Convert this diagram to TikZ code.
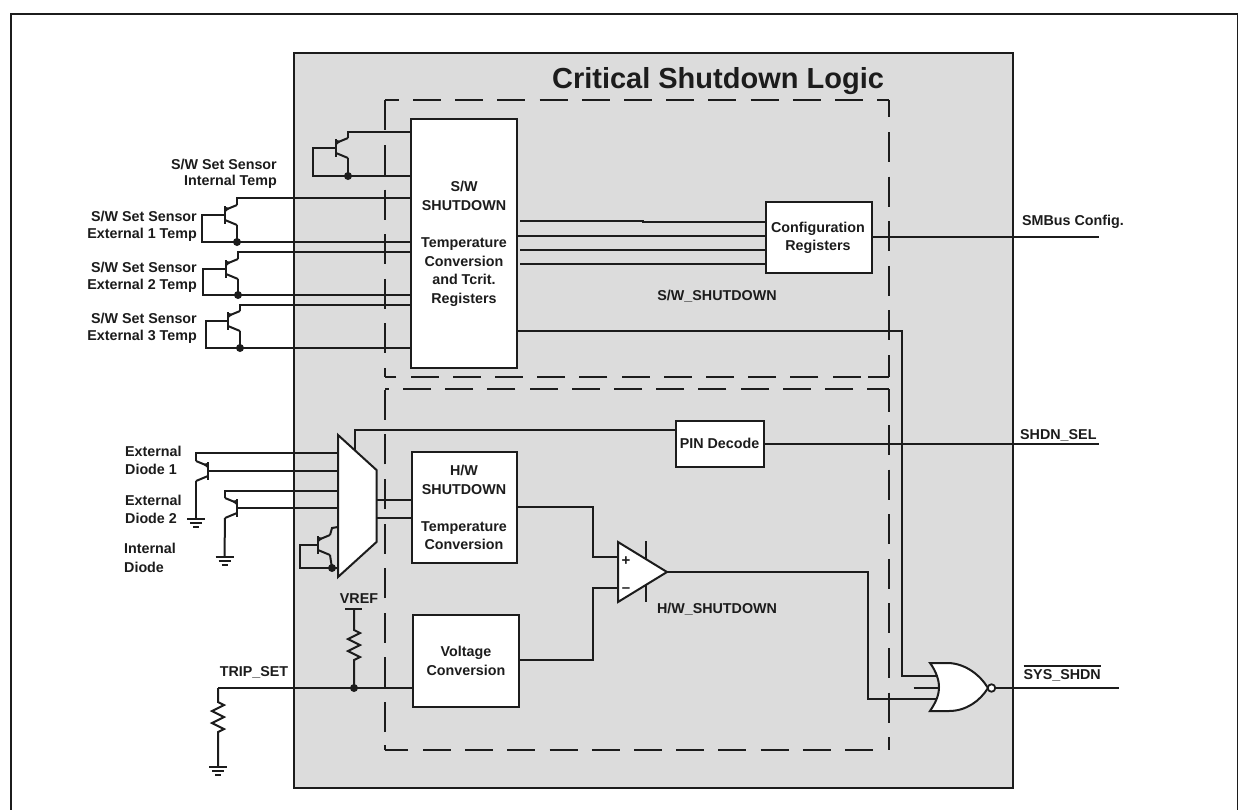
\documentclass[tikz,border=0pt]{standalone}
\usepackage{fontspec}
\setmainfont{Liberation Sans}
\definecolor{ink}{HTML}{1C1C1C}
\definecolor{panel}{HTML}{DCDCDC}
\tikzset{
  wire/.style={draw=ink,line width=2pt,line join=miter},
  box/.style={draw=ink,fill=white,line width=2pt,inner sep=0pt,align=center,font=\lbl,anchor=center},
  lbl/.style={inner sep=0pt,font=\lbl,text=ink,align=center},
  dashh/.style={draw=ink,line width=2pt,dash pattern=on 28pt off 14.2pt},
  dashv/.style={draw=ink,line width=2pt,dash pattern=on 30pt off 14.6pt},
  joint/.style={circle,fill=ink,inner sep=0pt,minimum size=8pt},
}
\newcommand\lbl{\fontsize{14.3}{18.6}\selectfont\bfseries}
% transistor: name, bar x, centre y, direction
\newcommand\qnpn[4]{%
  \coordinate (#1-b) at (#2,#3);
  \coordinate (#1-c) at ({#2+12*#4},{#3-10});
  \coordinate (#1-e) at ({#2+12*#4},{#3+10});
  \draw[wire] (#2,{#3-9}) -- (#2,{#3+9});
  \draw[wire] (#2,{#3-5}) -- (#1-c);
  \draw[wire] (#2,{#3+5}) -- (#1-e);
  \fill[ink] ({#2+0.5*#4},{#3-8}) -- ({#2+0.5*#4},{#3-3}) -- ({#2+5*#4},{#3-7}) -- cycle;
}
\newcommand\gnd[2]{%
  \draw[wire] ({#1-9},#2) -- ({#1+9},#2);
  \draw[wire] ({#1-6},{#2+4}) -- ({#1+6},{#2+4});
  \draw[wire] ({#1-3},{#2+7.5}) -- ({#1+3},{#2+7.5});
}
\newcommand\zigzag[2]{ -- (#1,#2) -- ({#1+6},{#2+3}) -- ({#1-6},{#2+9}) -- ({#1+6},{#2+15}) -- ({#1-6},{#2+21}) -- ({#1+6},{#2+27}) -- (#1,{#2+30}) }
\begin{document}
\begin{tikzpicture}[x=1pt,y=-1pt]
\useasboundingbox (0,0) rectangle (1248,809);
\fill[white] (0,0) rectangle (1248,809);
% outer frame
\draw[ink,line width=1.8pt] (10.8,818) -- (10.8,13.8) -- (1237.5,13.8) -- (1237.5,818);
% panel
\node[draw=ink,fill=panel,line width=2pt,minimum width=719pt,minimum height=735pt,inner sep=0pt] (panel) at (653.5,420.5) {};
\node[lbl,font=\fontsize{29}{32}\selectfont\bfseries] (title) at (718,81) {Critical Shutdown Logic};
% dashed enclosures
\draw[dashh] (385,100) -- (399,100);
\draw[dashh] (413,100) -- (888.5,100);
\draw[dashv] (888.5,100) -- (888.5,117);
\draw[dashv] (888.5,132) -- (888.5,377);
\draw[dashh] (888.5,377) -- (868,377);
\draw[dashh] (860.5,377) -- (385,377);
\draw[dashv] (385,100) -- (385,131);
\draw[dashv] (385,145) -- (385,377);
\draw[dashh] (867,389) -- (888.5,389);
\draw[dashh] (853,389) -- (385,389);
\draw[dashv] (888.5,389) -- (888.5,412);
\draw[dashv] (888.5,425) -- (888.5,750);
\draw[dashh] (408,750) -- (385,750);
\draw[dashh] (423,750) -- (880,750);
\draw[dashv] (385,750) -- (385,745);
\draw[dashv] (385,732) -- (385,389);
% blocks
\node[box,minimum width=105.5pt,minimum height=249pt] (sw) at (464.2,243.5) {};
\node[box,minimum width=106pt,minimum height=71pt] (cfg) at (819,237.5) {};
\node[box,minimum width=88pt,minimum height=46pt] (pin) at (719.5,444) {};
\node[box,minimum width=105pt,minimum height=111pt] (hw) at (464.5,507.5) {};
\node[box,minimum width=106pt,minimum height=92pt] (volt) at (466,661) {};
% multiplexer, comparator, gate
\coordinate (muxsel) at (355,450);
\draw[wire] (pin.west |- 0,430) -- (355,430) -- (muxsel);
\draw[wire,fill=white] (338,435) coordinate (mux-a) -- (376.5,470) -- (376.5,542) -- (338,577) coordinate (mux-d) -- cycle;
\coordinate (mux-o1) at (376.5,500);
\coordinate (mux-o2) at (376.5,518);
% S/W sensors
\qnpn{qi}{336}{148}{1}
\qnpn{qa}{225}{215}{1}
\qnpn{qb}{226}{269}{1}
\qnpn{qc}{228}{321}{1}
\draw[wire] (qi-c) -- ++(0,-6) coordinate (qic) -- (sw.west |- qic);
\draw[wire] (qi-e) -- ++(0,18) coordinate (qie) -- (sw.west |- qie);
\draw[wire] (qi-b) -- (313,148) |- (qie);
\node[joint] (ji) at (qie) {};
\draw[wire] (qa-c) -- ++(0,-7) coordinate (qac) -- (sw.west |- qac);
\draw[wire] (qa-e) -- ++(0,17) coordinate (qae) -- (sw.west |- qae);
\draw[wire] (qa-b) -- (202,215) |- (qae);
\node[joint] (ja) at (qae) {};
\draw[wire] (qb-c) -- ++(0,-7) coordinate (qbc) -- (sw.west |- qbc);
\draw[wire] (qb-e) -- ++(0,16) coordinate (qbe) -- (sw.west |- qbe);
\draw[wire] (qb-b) -- (203,269) |- (qbe);
\node[joint] (jb) at (qbe) {};
\draw[wire] (qc-c) -- ++(0,-6) coordinate (qcc) -- (sw.west |- qcc);
\draw[wire] (qc-e) -- ++(0,17) coordinate (qce) -- (sw.west |- qce);
\draw[wire] (qc-b) -- (206,321) |- (qce);
\node[joint] (jc) at (qce) {};
% S/W to configuration
\coordinate (s1) at (520,221);
\coordinate (s2) at (517,236);
\coordinate (s3) at (520,250);
\coordinate (s4) at (520,264);
\draw[wire] (s1) -- (643,221) -- (643,222) -- (cfg.west |- 0,222);
\draw[wire] (s2) -- (cfg.west |- s2);
\draw[wire] (s3) -- (cfg.west |- s3);
\draw[wire] (s4) -- (cfg.west |- s4);
\coordinate (smbusend) at (1099,237);
\draw[wire] (cfg.east |- smbusend) -- (smbusend);
% S/W shutdown output
\coordinate (swo) at (517,331);
\coordinate (nor1) at (935,676);
\draw[wire] (swo) -| (902,676) -- (nor1);
% diodes
\qnpn{da}{208}{471}{-1}
\qnpn{db}{237}{508}{-1}
\qnpn{dc}{318}{545}{1}
\draw[wire] (da-c) -- ++(0,-8) coordinate (dac) -- (mux-a |- dac);
\draw[wire] (da-b) -- (mux-a |- da-b);
\draw[wire] (db-c) -- ++(0,-7) coordinate (dbc) -- (mux-a |- dbc);
\draw[wire] (db-b) -- (mux-a |- db-b);
\coordinate (ga) at (196,519);
\coordinate (gb) at (224.5,557);
\draw[wire] (da-e) -- (ga);
\gnd{196}{519}
\draw[wire] (db-e) -- (gb);
\gnd{224.5}{557}
\draw[wire] (dc-c) -- (332,528) -- (338,527);
\draw[wire] (dc-e) -- (332,568) coordinate (dce) -- (mux-a |- dce);
\draw[wire] (dc-b) -- (300,545) |- (dce);
\node[joint] (jd) at (dce) {};
% mux outputs
\draw[wire] (mux-o1) -- (hw.west |- mux-o1);
\draw[wire] (mux-o2) -- (hw.west |- mux-o2);
% pin decode output
\coordinate (seleend) at (1099,444);
\draw[wire] (pin.east |- seleend) -- (seleend);
% comparator
\coordinate (cp) at (618,557);
\coordinate (cm) at (618,588);
\coordinate (ct) at (667,572);
\draw[wire] (646,541) -- (646,602);
\draw[wire,fill=white] (618,542) -- (ct) -- (618,602) -- cycle;
\node[lbl,font=\fontsize{15}{15}\selectfont\bfseries] (plus) at (626,561) {+};
\node[lbl,font=\fontsize{15}{15}\selectfont\bfseries] (minus) at (626,590) {--};
\draw[wire] (hw.east |- 0,507) -- (593,507) |- (cp);
\draw[wire] (volt.east |- 0,660) -- (593,660) |- (cm);
% NOR
\coordinate (nor2) at (935,699);
\coordinate (norm) at (939,688);
\draw[wire] (ct) -- (868,572) |- (nor2);
\draw[wire] (913.5,688) -- (norm);
\draw[wire,fill=white] (930,663) -- (949,663) .. controls (966,664) and (980,675) .. (988,688)
  .. controls (980,701) and (966,711) .. (949,711) -- (930,711)
  .. controls (936,702) and (939,695) .. (939,687) .. controls (939,680) and (936,671) .. (930,663) -- cycle;
\draw[wire] (nor1) -- (937,676);
\draw[wire] (nor2) -- (937,699);
\node[circle,draw=ink,fill=white,line width=1.8pt,minimum size=7.5pt,inner sep=0pt] (bub) at (991.5,688) {};
\coordinate (sysend) at (1119,688);
\draw[wire] (bub) -- (sysend);
% VREF and TRIP_SET
\coordinate (vtop) at (354,609);
\coordinate (vdot) at (354,688);
\coordinate (tripl) at (218,688);
\draw[wire] (345,609) -- (362,609);
\draw[wire] (vtop) \zigzag{354}{630} -- (vdot);
\draw[wire] (tripl) -- (volt.west |- tripl);
\node[joint] (jv) at (vdot) {};
\draw[wire] (tripl) \zigzag{218}{702} -- (218,766);
\gnd{218}{767}
% labels
\node[lbl,align=right,anchor=east] (t1a) at (277,164) {S/W Set Sensor};
\node[lbl,align=right,anchor=east] (t1b) at (277,182) {Internal Temp};
\node[lbl,anchor=east] (t2a) at (197,216) {S/W Set Sensor};
\node[lbl,anchor=east] (t2b) at (197,235) {External 1 Temp};
\node[lbl,anchor=east] (t3a) at (197,267) {S/W Set Sensor};
\node[lbl,anchor=east] (t3b) at (197,286) {External 2 Temp};
\node[lbl,anchor=east] (t4a) at (197,318) {S/W Set Sensor};
\node[lbl,anchor=east] (t4b) at (197,337) {External 3 Temp};
\node[lbl,anchor=west] (d1a) at (125,451) {External};
\node[lbl,anchor=west] (d1b) at (125,469) {Diode 1};
\node[lbl,anchor=west] (d2a) at (125,500) {External};
\node[lbl,anchor=west] (d2b) at (125,518) {Diode 2};
\node[lbl,anchor=west] (d3a) at (124,548) {Internal};
\node[lbl,anchor=west] (d3b) at (124,567) {Diode};
\node[lbl] (vref) at (359,599) {VREF};
\node[lbl] (trip) at (254,672) {TRIP\_SET};
\node[lbl] (swt) at (464,244) {S/W\\SHUTDOWN\\[18.6pt]Temperature\\Conversion\\and Tcrit.\\Registers};
\node[lbl] (cfgt) at (818,238) {Configuration\\Registers};
\node[lbl] (swl) at (717,296) {S/W\_SHUTDOWN};
\node[lbl] (pint) at (719.5,443) {PIN Decode};
\node[lbl] (hwt) at (464,507.5) {H/W\\SHUTDOWN\\[18.6pt]Temperature\\Conversion};
\node[lbl] (vt) at (466,661) {Voltage\\Conversion};
\node[lbl] (hwl) at (717,609) {H/W\_SHUTDOWN};
\node[lbl,anchor=west] (smb) at (1022,222) {SMBus Config.};
\node[lbl,anchor=west] (shd) at (1020,435) {SHDN\_SEL};
\node[lbl,anchor=west] (sys) at (1023.5,675) {SYS\_SHDN};
\draw[ink,line width=1.6pt] (sys.west |- 0,666) -- (sys.east |- 0,666);
\end{tikzpicture}
\end{document}
